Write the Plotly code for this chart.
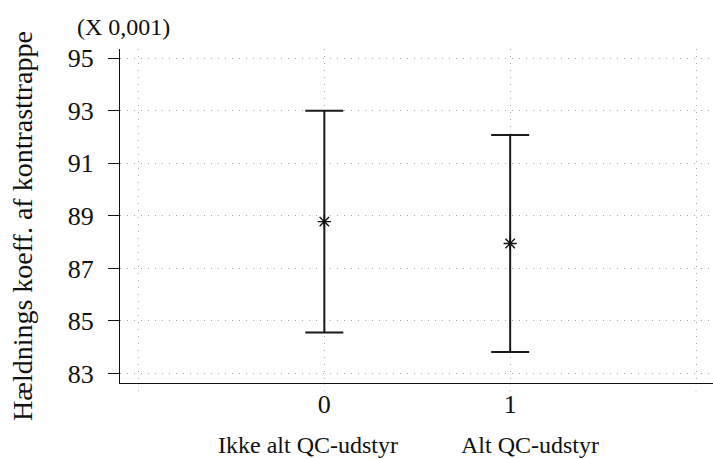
import plotly.graph_objects as go

# Group means with their interval half-widths (values in units of 0.001)
groups = [0, 1]
means = [88.78, 87.95]
half_widths = [4.22, 4.13]

y_ticks = [83, 85, 87, 89, 91, 93, 95]
x_grid = [-1, 0, 1, 2]
x_ticktext = ["", "0", "1", ""]

y_title = "Hældnings koeff. af kontrasttrappe"
group_names = ["Ikke alt QC-udstyr", "Alt QC-udstyr"]
scale_note = "(X 0,001)"

FONT = "Liberation Serif"
GRID = "#a8a8a8"
INK = "#111111"

fig = go.Figure()
fig.add_trace(go.Scatter(
    x=groups,
    y=means,
    mode="markers",
    marker=dict(symbol="asterisk-open", size=11, color=INK,
                line=dict(width=1.4, color=INK)),
    error_y=dict(type="data", array=half_widths, symmetric=True,
                 color="#1a1a1a", thickness=2, width=19),
    showlegend=False,
    hoverinfo="skip",
))

# short dotted extensions of the vertical grid below the x axis line
for gx in x_grid:
    fig.add_shape(type="line", xref="x", yref="paper", x0=gx, x1=gx,
                  y0=-0.025, y1=0, line=dict(color=GRID, width=1, dash="1px,6px"),
                  layer="below")

tick_font = dict(family=FONT, size=26, color=INK)
label_font = dict(family=FONT, size=24, color=INK)
title_font = dict(family=FONT, size=28, color=INK)

annotations = [
    dict(text=y_title, textangle=-90, xref="paper", yref="paper",
         x=-0.1653, y=0.47, xanchor="center", yanchor="middle",
         showarrow=False, font=title_font),
    dict(text=scale_note, xref="paper", yref="paper",
         x=0.0067, y=1.066, xanchor="center", yanchor="middle",
         showarrow=False, font=label_font),
]
# group names below the axis, laid out left to right
for name, px in zip(group_names, [0.317, 0.691]):
    annotations.append(dict(text=name, xref="paper", yref="paper",
                            x=px, y=-0.186, xanchor="center", yanchor="middle",
                            showarrow=False, font=label_font))

fig.update_layout(
    width=713, height=459,
    margin=dict(l=120, r=0, t=49, b=76),
    paper_bgcolor="white", plot_bgcolor="white",
    font=label_font,
    xaxis=dict(
        range=[-1.0996, 2.0915],
        tickvals=x_grid, ticktext=x_ticktext,
        showgrid=True, gridcolor=GRID, gridwidth=1, griddash="1px,6px",
        showline=True, linecolor=INK, linewidth=1.3,
        ticks="", zeroline=False,
        ticklabelstandoff=-2,
        tickfont=tick_font,
    ),
    yaxis=dict(
        range=[82.64, 95.35],
        tickvals=y_ticks,
        showgrid=True, gridcolor=GRID, gridwidth=1, griddash="1px,6px",
        showline=True, linecolor=INK, linewidth=1.3,
        ticks="outside", ticklen=11, tickcolor=INK, tickwidth=1.3,
        ticklabelstandoff=9,
        zeroline=False,
        tickfont=tick_font,
    ),
    annotations=annotations,
)

fig.write_html("out.html")
